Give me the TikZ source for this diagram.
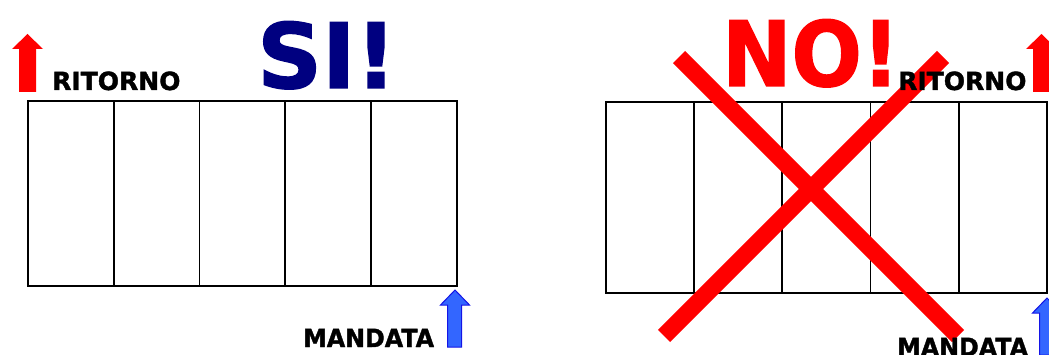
\documentclass[tikz,border=0pt]{standalone}
\usepackage{fontspec}
\setmainfont{DejaVu Sans}
\newfontfamily\heavy[BoldFeatures={FakeBold=1.5}]{DejaVu Sans}
\definecolor{navyblue}{RGB}{0,0,128}
\definecolor{arrowblue}{RGB}{51,102,255}
\definecolor{arrowedge}{RGB}{20,20,230}
\begin{document}
\begin{tikzpicture}[x=1pt,y=-1pt,
  cellL/.style={draw=black,line width=1.8pt,inner sep=0pt,minimum width=85.75pt,minimum height=185pt,anchor=north west},
  cellR/.style={draw=black,line width=1.8pt,inner sep=0pt,minimum width=88.2pt,minimum height=191pt,anchor=north west},
  lbl/.style={font=\heavy\bfseries\fontsize{25}{25}\selectfont,inner sep=0pt,anchor=base west},
  big/.style={font=\heavy\bfseries\fontsize{90}{90}\selectfont,inner sep=0pt,anchor=base west},
  redarrow/.style={fill=red,draw=none},
  bluearrow/.style={fill=arrowblue,draw=arrowedge,line width=1pt},
  cross/.style={draw=red,line width=17pt}]
\useasboundingbox (0,0) rectangle (1049,355);
% left box
\foreach \i in {0,...,4}{
  \node[cellL] (L\i) at ({27+85.75*\i},100) {};
}
% right box
\foreach \i in {0,...,4}{
  \node[cellR] (R\i) at ({605+88.2*\i},101) {};
}
% red cross
\coordinate (xa) at (679,57);
\coordinate (xb) at (958,336);
\coordinate (xc) at (943,57);
\coordinate (xd) at (664,336);
\draw[cross] (xa) -- (xb);
\draw[cross] (xc) -- (xd);
% arrows
\fill[redarrow] (19,92) -- (19,49) -- (12,49) -- (27.5,34) -- (43,49) -- (36,49) -- (36,92) -- cycle;
\fill[redarrow] (1033,92) -- (1033,49) -- (1026,49) -- (1041.5,34) -- (1057,49) -- (1050,49) -- (1050,92) -- cycle;
\filldraw[bluearrow] (447.5,347) -- (447.5,305) -- (440.5,305) -- (455,290) -- (469.5,305) -- (461.5,305) -- (461.5,347) -- cycle;
\filldraw[bluearrow] (1039.5,355) -- (1039.5,313) -- (1032.5,313) -- (1047,298) -- (1061.5,313) -- (1053.5,313) -- (1053.5,355) -- cycle;
% texts
\node[lbl] (rl) at (52,90) {RITORNO};
\node[lbl,xscale=0.95] (ml) at (303,347) {MANDATA};
\node[lbl] (rr) at (898,90) {RITORNO};
\node[lbl,xscale=0.95] (mr) at (897,356) {MANDATA};
\node[big,text=navyblue] (si) at (257,88) {SI!};
\node[big,text=red,xscale=0.92] (no) at (722,86) {NO!};
\end{tikzpicture}
\end{document}
